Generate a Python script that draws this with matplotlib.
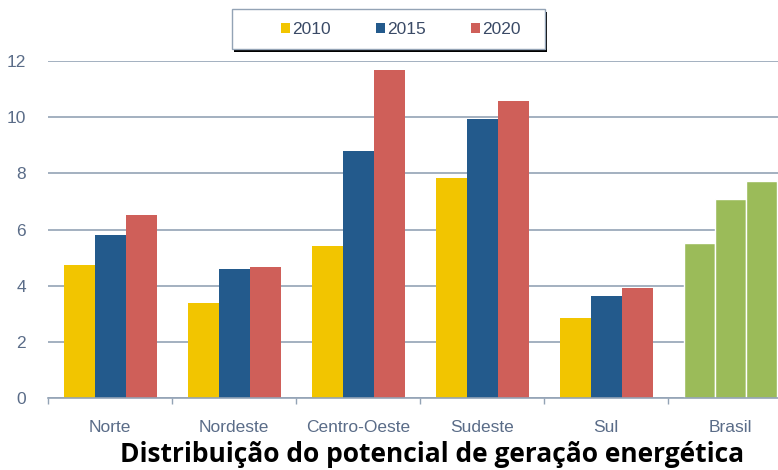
import numpy as np
import matplotlib.pyplot as plt
from matplotlib.patches import Patch, Rectangle

regioes = ['Norte', 'Nordeste', 'Centro-Oeste', 'Sudeste', 'Sul', 'Brasil']
anos = ['2010', '2015', '2020']
v2010 = [4.73, 3.40, 5.40, 7.85, 2.85, 5.52]
v2015 = [5.82, 4.58, 8.78, 9.92, 3.62, 7.07]
v2020 = [6.53, 4.65, 11.68, 10.56, 3.90, 7.72]
yticks = [0, 2, 4, 6, 8, 10, 12]

cores = ['#F2C500', '#235A8C', '#CF5F59']
verde = '#9BBB59'
txt = '#5A6C88'
grade = '#93A3B5'

fig = plt.figure(figsize=(7.78, 4.70), dpi=100)
ax = fig.add_axes([48/778, 72/470, 744/778, 337/470])

x = np.arange(len(regioes))
w = 0.25
series = [v2010, v2015, v2020]
for i, vals in enumerate(series):
    pos = x + (i - 1) * w
    cols = [cores[i]] * (len(regioes) - 1) + [verde]
    ec = ['none'] * (len(regioes) - 1) + ['white']
    ax.bar(pos, vals, w, color=cols, edgecolor=ec, linewidth=1, zorder=2)

ax.set_xlim(-0.5, len(regioes) - 0.5)
ax.set_ylim(0, 12)
ax.set_yticks(yticks)
ax.yaxis.grid(True, color=grade, linewidth=1.2, zorder=0)
ax.set_axisbelow(True)
for s in ['top', 'right', 'left']:
    ax.spines[s].set_visible(False)
ax.spines['bottom'].set_color(grade)
ax.spines['bottom'].set_linewidth(1.2)

ax.set_xticks(x)
ax.set_xticklabels(regioes, fontsize=12.5, color=txt, family='Liberation Sans')
ax.tick_params(axis='x', length=0, pad=16)
ax.set_xticks(np.arange(len(regioes)) - 0.5, minor=True)
ax.tick_params(axis='x', which='minor', length=4, color=grade, width=1)
ax.tick_params(axis='y', length=0, pad=16, labelsize=12.5, labelcolor=txt)
for lab in ax.get_yticklabels():
    lab.set_family('Liberation Sans')

# caixa da legenda com sombra preta embaixo
fig.patches.append(Rectangle((234/778, 1 - 52/470), 313/778, 40/470,
                             transform=fig.transFigure, facecolor='black',
                             edgecolor='none', zorder=1))
fig.patches.append(Rectangle((232/778, 1 - 49/470), 313/778, 40/470,
                             transform=fig.transFigure, facecolor='white',
                             edgecolor=grade, linewidth=1, zorder=2))

handles = [Patch(facecolor=c, edgecolor='none') for c in cores]
leg = fig.legend(handles, anos, loc='center', bbox_to_anchor=(401/778, 1 - 30/470),
                 ncol=3, frameon=False,
                 handlelength=0.5, handleheight=0.5, handletextpad=0.15,
                 columnspacing=2.6,
                 prop={'family': 'Liberation Sans', 'size': 12.5})
leg.set_zorder(3)
for t in leg.get_texts():
    t.set_color('#3A4A66')

fig.text(432/778, 15/470, 'Distribuição do potencial de geração energética',
         ha='center', va='center', fontsize=19, fontweight='bold',
         family='Open Sans', color='black')

fig.savefig('out.png', dpi=100)
